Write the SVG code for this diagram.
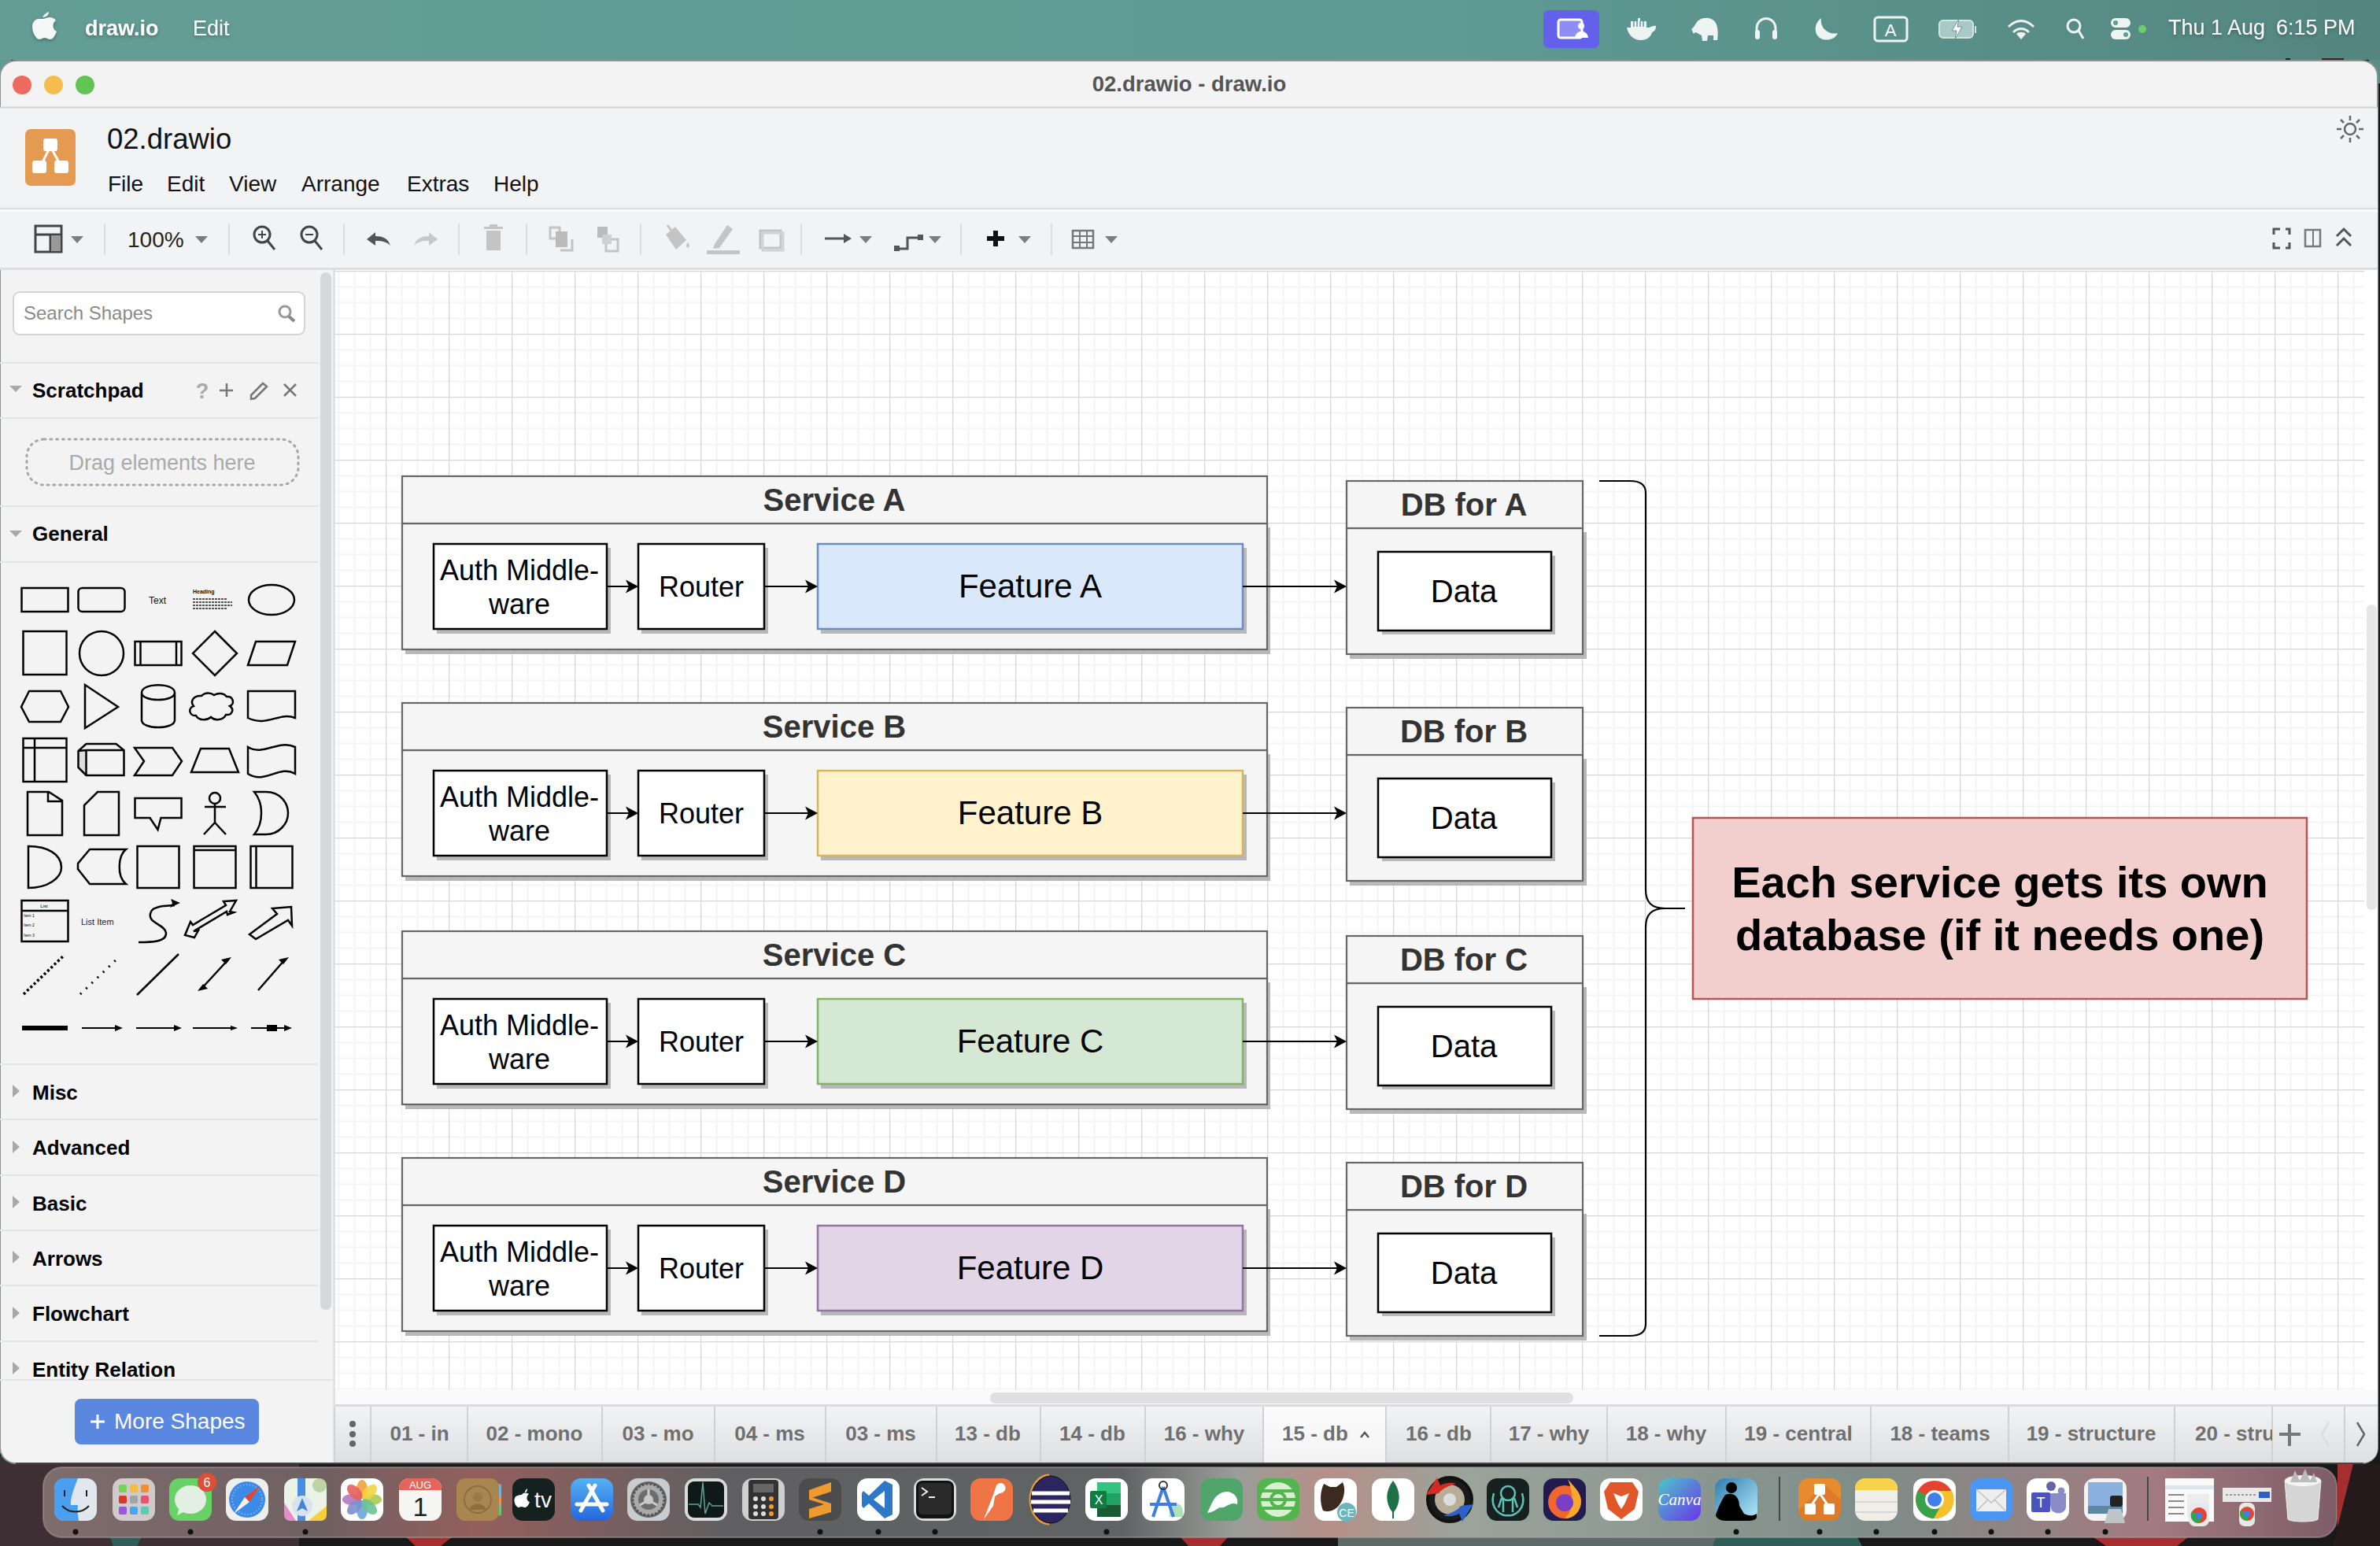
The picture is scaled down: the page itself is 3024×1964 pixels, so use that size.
<svg xmlns="http://www.w3.org/2000/svg" width="3024" height="1964" viewBox="0 0 3024 1964">
<style>
text{font-family:"Liberation Sans",Arial,sans-serif}
.mb{fill:#fff;font-size:27px}
.mnu{fill:#111;font-size:28px}
.sec{fill:#000;font-size:26px;font-weight:bold}
.tab{fill:#707070;font-size:26px;font-weight:bold;text-anchor:middle}
.sep{stroke:#dcdee1;stroke-width:2}
.ln{stroke:#e2e4e7;stroke-width:2}
.tsep{stroke:#d0d1d4;stroke-width:2}
.car{fill:#7d7d7d}
.on{fill:none;stroke:#444;stroke-width:3}
.off{fill:none;stroke:#c4c4c4;stroke-width:3}
.offf{fill:#c4c4c4}
.s{fill:none;stroke:#000;stroke-width:2.5}
.wi{fill:none;stroke:#eef4f2;stroke-width:3}
.wf{fill:#eef4f2}
.svc{fill:#f5f5f5;stroke:#666;stroke-width:2.2}
.shd{fill:#b8b8b8}
.box{fill:#fff;stroke:#000;stroke-width:2.5}
.hd{fill:#333;font-size:40px;font-weight:bold;text-anchor:middle}
.t36{fill:#000;font-size:36px;text-anchor:middle}
.t40{fill:#000;font-size:40px;text-anchor:middle}
.t42{fill:#000;font-size:42px;text-anchor:middle}
.conn{fill:none;stroke:#000;stroke-width:2.2;marker-end:url(#ah)}
.dot{fill:#111}
</style>
<defs>
<linearGradient id="mbg" x1="0" x2="1" y1="0" y2="0"><stop offset="0" stop-color="#639d96"/><stop offset=".6" stop-color="#5f9a94"/><stop offset="1" stop-color="#548680"/></linearGradient>
<linearGradient id="tabg" x1="0" x2="0" y1="0" y2="1"><stop offset="0" stop-color="#f2f3f5"/><stop offset="1" stop-color="#dedfe1"/></linearGradient>
<linearGradient id="tabw" x1="0" x2="0" y1="0" y2="1"><stop offset="0" stop-color="#fbfbfb"/><stop offset="1" stop-color="#f3f3f3"/></linearGradient>
<linearGradient id="dockg" x1="0" x2="1" y1="0" y2="0"><stop offset="0" stop-color="#7f6c6d"/><stop offset=".12" stop-color="#6f6061"/><stop offset=".19" stop-color="#935f5d"/><stop offset=".3" stop-color="#5f5f61"/><stop offset=".47" stop-color="#606364"/><stop offset=".52" stop-color="#9a9d98"/><stop offset=".56" stop-color="#b68f88"/><stop offset=".62" stop-color="#9aa49b"/><stop offset=".8" stop-color="#7e8c88"/><stop offset=".92" stop-color="#a37a7f"/><stop offset="1" stop-color="#7d5d68"/></linearGradient>
<linearGradient id="blueg" x1="0" x2="0" y1="0" y2="1"><stop offset="0" stop-color="#55b2f5"/><stop offset="1" stop-color="#2566dd"/></linearGradient>
<linearGradient id="canva" x1="0" x2="1" y1="0" y2="1"><stop offset="0" stop-color="#4cc6c8"/><stop offset="1" stop-color="#6a35ea"/></linearGradient>
<linearGradient id="sky" x1="0" x2="1" y1="0" y2="1"><stop offset="0" stop-color="#2f7cb0"/><stop offset="1" stop-color="#b6ecfb"/></linearGradient>
<pattern id="grid" patternUnits="userSpaceOnUse" x="490" y="344" width="80" height="80">
<path d="M20 0V80M40 0V80M60 0V80M0 20H80M0 40H80M0 60H80" transform="translate(.5 .5)" fill="none" stroke="#f4f4f4" stroke-width="2"/>
<path d="M0 0V80M0 0H80" transform="translate(.5 .5)" fill="none" stroke="#d8d8d8" stroke-width="1.5"/>
</pattern>
<marker id="ah" markerUnits="userSpaceOnUse" markerWidth="18" markerHeight="18" refX="12" refY="9" orient="auto"><path d="M0 .5L16 9L0 17.5L4 9Z" fill="#000"/></marker>
<clipPath id="tabclip"><rect x="2763" y="1786" width="124" height="72"/></clipPath>
<clipPath id="sideclip"><rect x="0" y="1700" width="408" height="53"/></clipPath>
<filter id="ts" x="-10%" y="-20%" width="120%" height="160%"><feDropShadow dx="0" dy="2" stdDeviation="2" flood-color="#000" flood-opacity=".3"/></filter>
</defs>

<!-- desktop -->
<rect width="3024" height="1964" fill="#191919"/>
<rect x="0" y="1850" width="380" height="114" fill="#3d2f33"/>
<rect x="1700" y="1950" width="480" height="14" fill="#5d6a67"/>
<path d="M516 1953h58l-14 11h-32zM1500 1953h60l-10 11h-40zM2660 1953h120l-14 11h-90zM2970 1860h54v104h-54z" fill="#a52f30"/>
<path d="M2990 1860h34v104h-60z" fill="#241a1b"/>
<path d="M140 1953h40l-6 11h-30zM2180 1953h180l6 11h-190z" fill="#2f5d57"/>
<rect width="3024" height="76" fill="url(#mbg)"/>
<rect x="3010" y="76" width="14" height="30" fill="#5a8d87"/>
<rect x="0" y="76" width="14" height="26" fill="#5f9a94"/>
<rect x="2904" y="74" width="6" height="3" fill="#222"/><rect x="2950" y="74" width="28" height="3" fill="#3a2020"/>

<!-- menu bar -->
<g id="menubar">
<path d="M54 22c2-4 5-6 8-7c0 4-3 7-8 7zM54 24c3 0 6-2 9-2c3 0 6 1 8 4c-5 3-5 11 1 14c-2 5-5 10-8 10c-3 0-4-2-7-2c-3 0-5 2-7 2c-4 0-9-9-9-16c0-7 5-10 8-10c2 0 4 0 5 0z" fill="#f4f8f7" filter="url(#ts)"/>
<text class="mb" x="108" y="45" font-weight="bold" filter="url(#ts)">draw.io</text>
<text class="mb" x="245" y="45" filter="url(#ts)">Edit</text>
<rect x="1961" y="13" width="71" height="48" rx="7" fill="#6360ec"/>
<rect x="1980" y="25" width="30" height="23" rx="3" fill="#8f8df3" stroke="#fff" stroke-width="3"/><circle cx="2009" cy="33" r="4" fill="#fff"/><path d="M2001 48c1-11 16-11 17 0z" fill="#fff"/>
<path d="M2067 35h28c2 0 6-3 9-2c0 5-2 7-5 8c-1 6-7 10-14 10c-9 0-16-6-18-16z" class="wf"/><path d="M2072 27h20v8h-20zM2081 23h3v4h-3z" class="wf"/><path d="M2076 27v7M2080 27v7M2084 27v7M2088 27v7" stroke="#5f9a94" stroke-width="1.500"/>
<path d="M2149 37c4-2 5-8 9-11c6-5 19-5 23 5c2 6 2 13 1 20h-5v-6h-7l-1 7h-6l-1-7c-7-4-8-5-10-2c-2-3-2-5-3-6z" class="wf"/>
<path d="M2232 46v-9c0-18 24-18 24 0v9" class="wi"/><rect x="2230" y="38" width="6" height="12" rx="3" class="wf"/><rect x="2252" y="38" width="6" height="12" rx="3" class="wf"/>
<path d="M2314 23C2304 30 2304 46 2316 50C2324 52 2332 49 2335 42C2324 45 2312 36 2314 23z" class="wf"/>
<rect x="2382" y="22" width="41" height="30" rx="4" class="wi"/><text x="2402" y="46" font-size="22" fill="#fff" text-anchor="middle">A</text>
<rect x="2464" y="26" width="43" height="22" rx="5" fill="#a9c9c4" stroke="#d7e5e2" stroke-width="2"/><path d="M2489 24l-9 15h6l-2 11l9-16h-6z" fill="#fff" stroke="#5f9a94"/><rect x="2509" y="33" width="2" height="9" fill="#d7e5e2"/>
<path d="M2552 34c10-10 22-10 32 0M2558 41c6-6 14-6 20 0" class="wi" stroke-width="4"/><path d="M2562 43c3-3 9-3 12 0l-6 7z" class="wf"/>
<circle cx="2635" cy="33" r="8" class="wi"/><path d="M2641 39l6 10" class="wi"/>
<rect x="2682" y="23" width="25" height="12" rx="6" class="wf"/><rect x="2682" y="38" width="25" height="12" rx="6" class="wf"/><circle cx="2688" cy="29" r="3" fill="#5f9a94"/><circle cx="2701" cy="44" r="3" fill="#5f9a94"/>
<circle cx="2722" cy="37" r="5" fill="#6fce6a"/>
<text class="mb" x="2755" y="44" filter="url(#ts)">Thu 1 Aug</text>
<text class="mb" x="2892" y="44" font-size="26" filter="url(#ts)">6:15 PM</text>
</g>

<!-- window -->
<rect x="0" y="77" width="3021" height="1782" rx="20" fill="#f3f3f3" stroke="#8d9393" stroke-width="2"/>
<g id="titlebar">
<circle cx="28" cy="108" r="12" fill="#ee6a5f"/><circle cx="68" cy="108" r="12" fill="#f5bd4f"/><circle cx="108" cy="108" r="12" fill="#61c454"/>
<text x="1511" y="116" font-size="27.500" font-weight="bold" fill="#555" text-anchor="middle">02.drawio - draw.io</text>
</g>
<rect x="0" y="137" width="3021" height="206" fill="#f1f3f5"/>
<path d="M0 136.500H3021" stroke="#d2d2d2" stroke-width="2"/>
<path d="M0 265H3021" stroke="#dcdee1" stroke-width="2.500"/><path d="M0 267.500H3021" stroke="#fff" stroke-width="2"/>
<path d="M0 341.500H3021" stroke="#dcdee1" stroke-width="3"/>

<g id="app-header">
<rect x="32" y="164" width="64" height="72" rx="7" fill="#e59a52"/>
<path d="M64 186L51 212M64 186L78 212" stroke="#fff" stroke-width="3" fill="none"/>
<rect x="55" y="176" width="18" height="16" rx="3" fill="#fff"/><rect x="41" y="204" width="18" height="16" rx="3" fill="#fff"/><rect x="69" y="204" width="18" height="16" rx="3" fill="#fff"/>
<text x="136" y="189" font-size="36.500" fill="#111">02.drawio</text>
<text class="mnu" x="137" y="243">File</text><text class="mnu" x="212" y="243">Edit</text><text class="mnu" x="291" y="243">View</text><text class="mnu" x="383" y="243">Arrange</text><text class="mnu" x="517" y="243">Extras</text><text class="mnu" x="627" y="243">Help</text>
<g fill="none" stroke="#666" stroke-width="2.500"><circle cx="2986" cy="164" r="7"/><path d="M2986 147v6M2986 175v6M2969 164h6M2997 164h6M2974 152l4 4M2994 172l4 4M2974 176l4-4M2994 156l4-4"/></g>
</g>

<g id="toolbar">
<path class="sep" d="M133 284v40M291 284v40M437 284v40M583 284v40M669 284v40M814 284v40M1018 284v40M1221 284v40M1336 284v40"/>
<rect x="45" y="287" width="33" height="33" fill="none" stroke="#444" stroke-width="3"/><path d="M45 298h33M64 298v22" stroke="#444" stroke-width="3"/><rect x="65" y="299" width="12" height="20" fill="#999"/>
<path class="car" d="M90 300h16l-8 9zM248 300h16l-8 9z"/>
<text x="162" y="314" font-size="28" fill="#222">100%</text>
<circle cx="333" cy="298" r="10" class="on"/><path d="M340 306l9 11" class="on" stroke-width="4"/><path d="M333 293v10M328 298h10" stroke="#444" stroke-width="2"/>
<circle cx="393" cy="298" r="10" class="on"/><path d="M400 306l9 11" class="on" stroke-width="4"/><path d="M388 298h10" stroke="#444" stroke-width="2"/>
<path d="M466 304l11-9v5c10 0 16 3 19 12c-5-5-10-6-19-6v6z" fill="#555"/>
<path d="M556 304l-11-9v5c-10 0-16 3-19 12c5-5 10-6 19-6v6z" fill="#c8c8c8"/>
<path class="offf" d="M618 293h18v25h-18zM615 288h24v3h-24zM622 285h10v3h-10z"/>
<rect x="699" y="289" width="12" height="14" class="off"/><rect x="706" y="294" width="15" height="20" fill="#bbb"/><path d="M712 318h15v-14" class="off" stroke-width="2"/>
<rect x="759" y="288" width="13" height="14" fill="#bbb"/><rect x="770" y="304" width="15" height="15" class="off"/><rect x="765" y="298" width="12" height="12" fill="#d0d0d0"/>
<path class="offf" d="M846 298l12-10l14 17l-13 12z"/><path d="M848 286l10 14" class="off" stroke-width="2"/><path class="offf" d="M874 308c2 3 3 5 0 7c-3-2-2-4 0-7z"/>
<path class="offf" d="M908 310l16-24l7 5l-17 24l-8 1z"/><rect x="898" y="318" width="42" height="5" class="offf"/>
<rect x="966" y="293" width="26" height="22" class="off" stroke-width="3"/><rect x="969" y="296" width="26" height="22" fill="none" stroke="#d2d2d2" stroke-width="3"/>
<path d="M1048 303h26" stroke="#555" stroke-width="3"/><path d="M1072 297l10 6l-10 6z" fill="#555"/>
<path class="car" d="M1092 300h16l-8 9zM1180 300h16l-8 9zM1294 300h16l-8 9zM1404 300h16l-8 9z"/>
<path d="M1140 316h13v-14h14" fill="none" stroke="#555" stroke-width="3"/><rect x="1136" y="312" width="7" height="7" fill="#555"/><rect x="1166" y="298" width="7" height="7" fill="#555"/>
<path d="M1265 293v20M1254 303h22" stroke="#111" stroke-width="6"/>
<rect x="1363" y="293" width="26" height="22" fill="none" stroke="#777" stroke-width="2.500"/><path d="M1363 300h26M1363 308h26M1372 293v22M1381 293v22" stroke="#777" stroke-width="2"/>
<path d="M2889 298v-7h8M2904 291h5v7M2889 308v7h8M2904 315h5v-7" stroke="#555" stroke-width="3" fill="none"/>
<rect x="2929" y="292" width="19" height="21" fill="none" stroke="#777" stroke-width="2.500"/><rect x="2938" y="292" width="2" height="21" fill="#777"/>
<path d="M2969 300l9-9l9 9M2969 312l9-9l9 9" fill="none" stroke="#555" stroke-width="3"/>
</g>

<!-- sidebar -->
<g id="sidebar">
<rect x="407" y="346" width="14" height="1318" rx="7" fill="#d6d7d9"/>
<path d="M424.500 343V1858" stroke="#d9dadc" stroke-width="2"/>
<rect x="17" y="371" width="370" height="54" rx="8" fill="#fff" stroke="#d4d4d4" stroke-width="2"/>
<text x="30" y="406" font-size="24" fill="#8a8a8a">Search Shapes</text>
<circle cx="362" cy="396" r="7" fill="none" stroke="#999" stroke-width="3"/><path d="M367 402l7 6" stroke="#888" stroke-width="4"/>
<path class="ln" d="M0 461H404M0 531H404M0 643H404M0 714H404M0 1352H404M0 1422H404M0 1493H404M0 1563H404M0 1633H404M0 1704H404M0 1753H424"/>
<path fill="#a8a8a8" d="M12 490h16l-8 8zM12 674h16l-8 8z"/>
<text class="sec" x="41" y="505">Scratchpad</text>
<text x="257" y="506" font-size="27" font-weight="bold" fill="#aaa" text-anchor="middle">?</text>
<path d="M288 487v17M279 496h17M361 488l15 15M376 488l-15 15" stroke="#777" stroke-width="2.500" fill="none"/>
<path d="M319 502l15-15l5 4l-15 15l-5 1z" fill="none" stroke="#777" stroke-width="2.500"/>
<rect x="34" y="558" width="345" height="58" rx="22" fill="none" stroke="#a8a8a8" stroke-width="3" stroke-dasharray="2 5.800" stroke-linecap="round"/>
<text x="206" y="597" font-size="27" fill="#aaa" text-anchor="middle">Drag elements here</text>
<text class="sec" x="41" y="687">General</text>
<rect class="s" x="27.500" y="747" width="59" height="30"/><rect class="s" x="99.500" y="747" width="59" height="30" rx="5"/>
<text x="200" y="767" font-size="12" fill="#111" text-anchor="middle">Text</text>
<text x="245" y="754" font-size="7" font-weight="bold" fill="#111">Heading</text>
<path d="M245 761h43M245 765h50M245 769h50M245 773h44" stroke="#555" stroke-width="2" stroke-dasharray="3 1"/>
<ellipse class="s" cx="345" cy="762" rx="29" ry="19"/>
<rect class="s" x="29.500" y="802" width="55" height="55"/><circle class="s" cx="129" cy="830" r="28"/>
<rect class="s" x="171.500" y="815" width="59" height="30"/><path class="s" d="M178.500 815v30M224 815v30"/>
<path class="s" d="M273 802l28 28l-28 28l-28-28zM325 815h50l-10 30h-50z"/>
<path class="s" d="M37 878h40l10 20l-10 19h-40l-10-19zM108 870v55l42-27z"/>
<path class="s" d="M180 880v35c0 12 42 12 42 0v-35c0-13-42-13-42 0c0 12 42 12 42 0"/>
<path class="s" d="M256 884c5-5 12-4 16-1c5-3 12-3 16 2c8-1 11 9 4 12c6 4 3 12-5 11c-3 7-14 8-19 3c-6 5-16 4-19-2c-8 1-11-9-3-12c-5-6 0-14 10-13z"/>
<path class="s" d="M315 878h60v34c-20-8-36 12-60 0z"/>
<rect class="s" x="29.500" y="938" width="55" height="55"/><path class="s" d="M44 938v55M29.500 950h55"/>
<path d="M100 955l9-1v30l-9-9z" fill="#ddd"/><path class="s" d="M99.500 954v21l10 10h48v-32l-10-8h-38zM109.500 953h48M109.500 953v32M109.500 953l-10 1"/>
<path class="s" d="M171 950h48l12 17l-12 18h-48l12-18zM243 981l12-30h36l12 30zM315 949c20 12 38-10 60 0v34c-20-12-38 14-60 0z"/>
<path class="s" d="M35 1006h27l17 11v44h-44zM61 1006v12h18"/>
<path class="s" d="M107 1061v-38l17-17h27v55z"/>
<path class="s" d="M171.500 1014h59v25h-26l-4 15l-10-15h-19z"/>
<circle class="s" cx="273" cy="1014" r="7"/><path class="s" d="M273 1021v24M260 1025h27M273 1045l-14 15M273 1045l14 15"/>
<path class="s" d="M323 1006h15c18 0 28 14 28 27c0 14-12 27-28 27h-15c12-14 12-40 0-54z"/>
<path class="s" d="M36 1075c24 0 42 10 42 27c0 14-18 26-42 26z"/>
<path class="s" d="M114 1079h46c-10 8-12 34 0 44h-46l-15-19v-7z"/>
<rect class="s" x="174.500" y="1075" width="53" height="53"/>
<rect class="s" x="246.500" y="1075" width="53" height="53"/><path class="s" d="M246.500 1080h53"/>
<rect class="s" x="318.500" y="1075" width="53" height="53"/><path class="s" d="M325.500 1075v53"/>
<rect class="s" x="27.500" y="1144" width="59" height="52"/><path class="s" d="M27.500 1157h59"/>
<text x="56" y="1153" font-size="6" text-anchor="middle">List</text><text x="30" y="1165" font-size="5">Item 1</text><text x="30" y="1177" font-size="5">Item 2</text><text x="30" y="1190" font-size="5">Item 3</text>
<text x="103" y="1175" font-size="11" fill="#222">List Item</text>
<path class="s" d="M176 1197c15 0 36 0 35-12c-2-12-26-12-19-27c3-7 18-7 30-8"/><path d="M217 1142l12 5l-13 6l3-6z" fill="#000"/>
<path class="s" d="M247 1191l5-9l-6 1l42-25l1 4l8-3l-5-1l8-14l-16 1l3 5l-42 25l-3-4l-7 17z"/>
<path class="s" d="M317 1187l8 6l41-24l5 7l-1-24l-24 2l6 7z"/>
<path d="M30 1263L82 1213" stroke="#000" stroke-width="3.500" stroke-dasharray="3 3"/>
<path d="M102 1263L152 1215" stroke="#000" stroke-width="3" stroke-dasharray="2 8"/>
<path d="M174 1264L227 1212" stroke="#000" stroke-width="2.500"/>
<path d="M255 1257L290 1219M328 1258L362 1219" stroke="#000" stroke-width="2.500"/>
<path d="M251 1259l13-3l-6-6zM294 1216l-13 3l6 6zM367 1216l-13 3l6 6z" fill="#000"/>
<rect x="28" y="1303" width="58" height="6" fill="#000"/>
<path d="M104 1306h46M173 1306h54M245 1306h54M319 1306h46" stroke="#000" stroke-width="2"/>
<path d="M146 1302l10 4l-10 4zM221 1302l10 4l-10 4zM293 1303l9 3l-9 3zM361 1302l10 4l-10 4z" fill="#000"/>
<rect x="339" y="1302" width="13" height="8" fill="#000"/>
<text class="sec" x="41" y="1397">Misc</text><text class="sec" x="41" y="1467">Advanced</text><text class="sec" x="41" y="1538">Basic</text><text class="sec" x="41" y="1608">Arrows</text><text class="sec" x="41" y="1678">Flowchart</text>
<text class="sec" x="41" y="1749" clip-path="url(#sideclip)">Entity Relation</text>
<path fill="#a8a8a8" d="M16 1378l9 8l-9 8zM16 1449l9 8l-9 8zM16 1519l9 8l-9 8zM16 1589l9 8l-9 8zM16 1660l9 8l-9 8zM16 1730l9 8l-9 8z"/>
<rect x="95" y="1777" width="234" height="58" rx="8" fill="#5a87e0"/>
<path d="M115 1806h18M124 1797v18" stroke="#fff" stroke-width="3"/>
<text x="145" y="1815" font-size="28" fill="#fff">More Shapes</text>
</g>

<!-- canvas -->
<rect x="426" y="343" width="2595" height="1441" fill="#fff"/>
<rect x="426" y="344" width="2578" height="1422" fill="url(#grid)"/>
<rect x="426" y="1766" width="2595" height="18" fill="#fafafa"/>
<rect x="3007" y="768" width="13" height="388" rx="6" fill="#e6e6e6"/>
<rect x="1258" y="1769" width="741" height="14" rx="7" fill="#e0e0e0"/>

<!-- diagram -->
<g id="service-a">
<rect class="shd" x="515" y="670" width="1099" height="161"/>
<rect class="svc" x="511" y="665" width="1099" height="160"/><rect class="svc" x="511" y="605" width="1099" height="60"/>
<text class="hd" x="1060" y="649">Service A</text>
<g id="auth-a"><rect class="shd" x="555" y="696" width="221" height="109"/><rect class="box" x="551" y="691" width="220" height="108"/><text class="t36" x="660" y="737">Auth Middle-</text><text class="t36" x="660" y="780">ware</text></g>
<g id="router-a"><rect class="shd" x="815" y="696" width="161" height="109"/><rect class="box" x="811" y="691" width="160" height="108"/><text class="t36" x="891" y="758">Router</text></g>
<g id="feature-a"><rect class="shd" x="1043" y="696" width="541" height="109"/><rect x="1039" y="691" width="540" height="108" fill="#dae8fc" stroke="#6c8ebf" stroke-width="2.500"/><text class="t42" x="1309" y="759">Feature A</text></g>
</g>
<g id="service-b" transform="translate(0 288)">
<rect class="shd" x="515" y="670" width="1099" height="161"/>
<rect class="svc" x="511" y="665" width="1099" height="160"/><rect class="svc" x="511" y="605" width="1099" height="60"/>
<text class="hd" x="1060" y="649">Service B</text>
<g id="auth-b"><rect class="shd" x="555" y="696" width="221" height="109"/><rect class="box" x="551" y="691" width="220" height="108"/><text class="t36" x="660" y="737">Auth Middle-</text><text class="t36" x="660" y="780">ware</text></g>
<g id="router-b"><rect class="shd" x="815" y="696" width="161" height="109"/><rect class="box" x="811" y="691" width="160" height="108"/><text class="t36" x="891" y="758">Router</text></g>
<g id="feature-b"><rect class="shd" x="1043" y="696" width="541" height="109"/><rect x="1039" y="691" width="540" height="108" fill="#fff2cc" stroke="#d6b656" stroke-width="2.500"/><text class="t42" x="1309" y="759">Feature B</text></g>
</g>
<g id="service-c" transform="translate(0 578)">
<rect class="shd" x="515" y="670" width="1099" height="161"/>
<rect class="svc" x="511" y="665" width="1099" height="160"/><rect class="svc" x="511" y="605" width="1099" height="60"/>
<text class="hd" x="1060" y="649">Service C</text>
<g id="auth-c"><rect class="shd" x="555" y="696" width="221" height="109"/><rect class="box" x="551" y="691" width="220" height="108"/><text class="t36" x="660" y="737">Auth Middle-</text><text class="t36" x="660" y="780">ware</text></g>
<g id="router-c"><rect class="shd" x="815" y="696" width="161" height="109"/><rect class="box" x="811" y="691" width="160" height="108"/><text class="t36" x="891" y="758">Router</text></g>
<g id="feature-c"><rect class="shd" x="1043" y="696" width="541" height="109"/><rect x="1039" y="691" width="540" height="108" fill="#d5e8d4" stroke="#82b366" stroke-width="2.500"/><text class="t42" x="1309" y="759">Feature C</text></g>
</g>
<g id="service-d" transform="translate(0 866)">
<rect class="shd" x="515" y="670" width="1099" height="161"/>
<rect class="svc" x="511" y="665" width="1099" height="160"/><rect class="svc" x="511" y="605" width="1099" height="60"/>
<text class="hd" x="1060" y="649">Service D</text>
<g id="auth-d"><rect class="shd" x="555" y="696" width="221" height="109"/><rect class="box" x="551" y="691" width="220" height="108"/><text class="t36" x="660" y="737">Auth Middle-</text><text class="t36" x="660" y="780">ware</text></g>
<g id="router-d"><rect class="shd" x="815" y="696" width="161" height="109"/><rect class="box" x="811" y="691" width="160" height="108"/><text class="t36" x="891" y="758">Router</text></g>
<g id="feature-d"><rect class="shd" x="1043" y="696" width="541" height="109"/><rect x="1039" y="691" width="540" height="108" fill="#e1d5e7" stroke="#9673a6" stroke-width="2.500"/><text class="t42" x="1309" y="759">Feature D</text></g>
</g>
<g id="db-a">
<rect class="shd" x="1715" y="676" width="301" height="161"/>
<rect class="svc" x="1711" y="671" width="300" height="160"/><rect class="svc" x="1711" y="611" width="300" height="60"/>
<text class="hd" x="1860" y="655">DB for A</text>
<g id="data-a"><rect class="shd" x="1756" y="706" width="220" height="100"/><rect class="box" x="1751" y="701" width="220" height="100"/><text class="t40" x="1860" y="765">Data</text></g>
</g>
<g id="db-b" transform="translate(0 288)">
<rect class="shd" x="1715" y="676" width="301" height="161"/>
<rect class="svc" x="1711" y="671" width="300" height="160"/><rect class="svc" x="1711" y="611" width="300" height="60"/>
<text class="hd" x="1860" y="655">DB for B</text>
<g id="data-b"><rect class="shd" x="1756" y="706" width="220" height="100"/><rect class="box" x="1751" y="701" width="220" height="100"/><text class="t40" x="1860" y="765">Data</text></g>
</g>
<g id="db-c" transform="translate(0 578)">
<rect class="shd" x="1715" y="676" width="301" height="161"/>
<rect class="svc" x="1711" y="671" width="300" height="160"/><rect class="svc" x="1711" y="611" width="300" height="60"/>
<text class="hd" x="1860" y="655">DB for C</text>
<g id="data-c"><rect class="shd" x="1756" y="706" width="220" height="100"/><rect class="box" x="1751" y="701" width="220" height="100"/><text class="t40" x="1860" y="765">Data</text></g>
</g>
<g id="db-d" transform="translate(0 866)">
<rect class="shd" x="1715" y="676" width="301" height="161"/>
<rect class="svc" x="1711" y="671" width="300" height="160"/><rect class="svc" x="1711" y="611" width="300" height="60"/>
<text class="hd" x="1860" y="655">DB for D</text>
<g id="data-d"><rect class="shd" x="1756" y="706" width="220" height="100"/><rect class="box" x="1751" y="701" width="220" height="100"/><text class="t40" x="1860" y="765">Data</text></g>
</g>
<g id="note">
<rect x="2151" y="1039" width="780" height="230" fill="#f2cfcd" stroke="#b85450" stroke-width="2.500"/>
<text x="2541" y="1140" font-size="56" font-weight="bold" fill="#000" text-anchor="middle">Each service gets its own</text>
<text x="2541" y="1207" font-size="56" font-weight="bold" fill="#000" text-anchor="middle">database (if it needs one)</text>
</g>
<g id="connectors">
<path class="conn" d="M771 745H807"/><path class="conn" d="M971 745H1035"/><path class="conn" d="M1579 745H1707"/>
<path class="conn" d="M771 1033H807"/><path class="conn" d="M971 1033H1035"/><path class="conn" d="M1579 1033H1707"/>
<path class="conn" d="M771 1323H807"/><path class="conn" d="M971 1323H1035"/><path class="conn" d="M1579 1323H1707"/>
<path class="conn" d="M771 1611H807"/><path class="conn" d="M971 1611H1035"/><path class="conn" d="M1579 1611H1707"/>
</g>
<path id="brace" d="M2032 611H2071C2084 611 2091 616 2091 626V1130C2091 1146 2098 1154 2116 1154H2141M2116 1154C2098 1154 2091 1162 2091 1178V1682C2091 1692 2084 1697 2071 1697H2032" fill="none" stroke="#000" stroke-width="2.200"/>

<!-- tab bar -->
<g id="tabbar">
<path d="M426 1785.500H3021" stroke="#dadbdd" stroke-width="3"/>
<path d="M426 1787H3021V1840a18 18 0 0 1-18 18H426z" fill="url(#tabg)"/>
<rect x="1606" y="1787" width="155" height="71" fill="url(#tabw)"/>
<path class="tsep" d="M425 1787v71M471 1787v71M594 1787v71M765 1787v71M908 1787v71M1049 1787v71M1190 1787v71M1322 1787v71M1455 1787v71M1605 1787v71M1761 1787v71M1894 1787v71M2042 1787v71M2193 1787v71M2377 1787v71M2552 1787v71M2763 1787v71M2887 1787v71M2979 1787v71"/>
<circle cx="448" cy="1809" r="4" fill="#666"/><circle cx="448" cy="1822" r="4" fill="#666"/><circle cx="448" cy="1834" r="4" fill="#666"/>
<text class="tab" x="533" y="1830">01 - in</text><text class="tab" x="679" y="1830">02 - mono</text><text class="tab" x="836" y="1830">03 - mo</text><text class="tab" x="978" y="1830">04 - ms</text><text class="tab" x="1119" y="1830">03 - ms</text><text class="tab" x="1255" y="1830">13 - db</text><text class="tab" x="1388" y="1830">14 - db</text><text class="tab" x="1530" y="1830">16 - why</text><text class="tab" x="1671" y="1830">15 - db</text>
<path d="M1729 1826l5-6l5 6" fill="none" stroke="#555" stroke-width="2.500"/>
<text class="tab" x="1828" y="1830">16 - db</text><text class="tab" x="1968" y="1830">17 - why</text><text class="tab" x="2117" y="1830">18 - why</text><text class="tab" x="2285" y="1830">19 - central</text><text class="tab" x="2465" y="1830">18 - teams</text><text class="tab" x="2657" y="1830">19 - structure</text>
<text class="tab" x="2789" y="1830" style="text-anchor:start" clip-path="url(#tabclip)">20 - structure</text>
<path d="M2909 1809v28M2896 1822h27" stroke="#777" stroke-width="4"/>
<path d="M2959 1807l-9 15l9 15" fill="none" stroke="#ddd" stroke-width="2.500"/><path d="M2995 1807l9 15l-9 15" fill="none" stroke="#666" stroke-width="2.500"/>
<path d="M20 1859H3003" stroke="#444" stroke-width="2"/>
</g>

<!-- dock -->
<g id="dock">
<rect x="55" y="1864" width="2914" height="89" rx="24" fill="url(#dockg)" stroke="#a9a3a3" stroke-opacity=".5" stroke-width="2"/>
<path d="M2261 1876v56M2729 1876v56" stroke="#3f4b4a" stroke-width="2"/>
<g transform="translate(96 1905)"><rect x="-27" y="-27" width="54" height="54" rx="13" fill="#e2e7ee"/><path d="M-14-27H3C-3-12-7 0-6 7H3C2 14 3 21 4 27H-14A13 13 0 0 1-27 14V-14A13 13 0 0 1-14-27Z" fill="#4a9ff0"/><path d="M-14-12v8M14-12v8" stroke="#222" stroke-width="2"/><path d="M-17 8C-8 18 8 18 17 8" fill="none" stroke="#222" stroke-width="2"/></g>
<g transform="translate(170 1905)"><rect x="-27" y="-27" width="54" height="54" rx="13" fill="#d0cbca"/><rect x="-19" y="-19" width="10" height="10" rx="2" fill="#76d255"/><rect x="-5" y="-19" width="10" height="10" rx="2" fill="#f3bd3d"/><rect x="9" y="-19" width="10" height="10" rx="2" fill="#ef9037"/><rect x="-19" y="-5" width="10" height="10" rx="2" fill="#d8362f"/><rect x="-5" y="-5" width="10" height="10" rx="2" fill="#9fa6a9"/><rect x="9" y="-5" width="10" height="10" rx="2" fill="#e85470"/><rect x="-19" y="9" width="10" height="10" rx="2" fill="#9b55dc"/><rect x="-5" y="9" width="10" height="10" rx="2" fill="#4aa5ef"/><rect x="9" y="9" width="10" height="10" rx="2" fill="#5dcbb0"/></g>
<g transform="translate(242 1905)"><rect x="-27" y="-27" width="54" height="54" rx="13" fill="#68d266"/><ellipse cx="0" cy="0" rx="20" ry="18" fill="#e4efe4"/><path d="M-14 10l-3 10l10-5z" fill="#e4efe4"/></g>
<circle cx="263" cy="1883" r="12" fill="#dc4f3c"/><text x="263" y="1889" font-size="16" fill="#fff" text-anchor="middle">6</text>
<g transform="translate(314 1905)"><rect x="-27" y="-27" width="54" height="54" rx="13" fill="#eeeeee"/><circle r="23" fill="#3b8be6"/><circle r="19" fill="none" stroke="#9cc6f5" stroke-width="2" stroke-dasharray="1 3"/><path d="M17-18L3 3L-3-3z" fill="#e8432e"/><path d="M-17 18L3 3L-3-3z" fill="#f2f2f2"/></g>
<g transform="translate(388 1905)"><rect x="-27" y="-27" width="54" height="54" rx="13" fill="#eaf3e6"/><rect x="-10" y="-27" width="10" height="54" fill="#4a8de0"/><path d="M-27 4L-12 27H-20A8 8 0 0 1-27 20z" fill="#e58ccb"/><path d="M4 27L27 8V20A8 8 0 0 1 20 27z" fill="#f5cf3d"/><circle cx="18" cy="-18" r="9" fill="#bbd3a5"/><circle r="13" cy="8" cx="-4" fill="#d9e2ee"/><path d="M-4-2l7 17l-7-4l-7 4z" fill="#3f86dd"/></g>
<g transform="translate(460 1905)"><rect x="-27" y="-27" width="54" height="54" rx="13" fill="#fff"/><ellipse cy="-13" rx="7" ry="12" fill="#f0a13c" opacity=".9"/><ellipse cy="13" rx="7" ry="12" fill="#6ba5d8" opacity=".9"/><ellipse cx="-13" rx="12" ry="7" fill="#b677c4" opacity=".9"/><ellipse cx="13" rx="12" ry="7" fill="#a8cc4f" opacity=".9"/><ellipse cy="-13" rx="7" ry="12" fill="#f3d43e" opacity=".9" transform="rotate(45)"/><ellipse cy="13" rx="7" ry="12" fill="#7e8ed0" opacity=".9" transform="rotate(45)"/><ellipse cy="-13" rx="7" ry="12" fill="#e7625d" opacity=".9" transform="rotate(-45)"/><ellipse cy="13" rx="7" ry="12" fill="#6cc394" opacity=".9" transform="rotate(-45)"/></g>
<g transform="translate(534 1905)"><rect x="-27" y="-27" width="54" height="54" rx="13" fill="#f5f5f3"/><path d="M-27-12V-14A13 13 0 0 1-14-27H14A13 13 0 0 1 27-14V-12z" fill="#e8645a"/><text y="-14" font-size="13" fill="#fff" text-anchor="middle">AUG</text><text y="21" font-size="34" fill="#222" text-anchor="middle">1</text></g>
<g transform="translate(607 1905)"><rect x="20" y="-20" width="10" height="40" rx="3" fill="#7ab0d8"/><rect x="20" y="-3" width="10" height="10" fill="#e9963b"/><rect x="20" y="8" width="10" height="12" fill="#6cc36b"/><rect x="-27" y="-27" width="54" height="54" rx="11" fill="#a98650"/><circle r="17" fill="none" stroke="#8e6f42" stroke-width="2"/><circle r="6" cy="-3" fill="#9a7a49"/><path d="M-11 13c3-10 19-10 22 0z" fill="#8e6f42"/></g>
<g transform="translate(678 1905)"><rect x="-27" y="-27" width="54" height="54" rx="13" fill="#15211e"/><path d="M-15-6c2-4 8-2 9-1c-4 3-3 9 1 10c-2 5-4 7-6 7c-2 0-3-1-4-1c-2 0-3 1-4 1c-3 0-7-7-5-12c1-3 6-4 9-4zM-11-9c0-3 2-4 3-5c0 3-1 5-3 5z" fill="#fff"/><text x="12" y="10" font-size="28" fill="#fff" text-anchor="middle">tv</text></g>
<g transform="translate(752 1905)"><rect x="-27" y="-27" width="54" height="54" rx="13" fill="url(#blueg)"/><path d="M-4-18L14 14M4-18L-14 14M-19 6H19" stroke="#fff" stroke-width="5" stroke-linecap="round"/></g>
<g transform="translate(824 1905)"><rect x="-27" y="-27" width="54" height="54" rx="13" fill="#c8ccd0"/><circle r="23" fill="#666"/><circle r="20" fill="#aaa" stroke="#555" stroke-width="3" stroke-dasharray="3 2"/><circle r="13" fill="#6d6d6d"/><circle r="6" fill="#c9c9c9"/><path d="M0-13V-5M11 7L4 3M-11 7L-4 3" stroke="#ccc" stroke-width="3"/></g>
<g transform="translate(897 1905)"><rect x="-27" y="-27" width="54" height="54" rx="13" fill="#d9dbdb"/><rect x="-23" y="-23" width="46" height="46" rx="8" fill="#0f1a18"/><path d="M-22 6h12l3 4l3-32l3 40l5-14l4 4h14" fill="none" stroke="#62a58e" stroke-width="1.500"/></g>
<g transform="translate(970 1905)"><rect x="-27" y="-27" width="54" height="54" rx="13" fill="#cfcfcf"/><rect x="-19" y="-25" width="38" height="50" rx="4" fill="#333"/><rect x="-13" y="-20" width="26" height="11" fill="#666"/><g fill="#ddd"><circle cx="-10" cy="-1" r="3"/><circle cy="-1" r="3"/><circle cx="-10" cy="9" r="3"/><circle cy="9" r="3"/><circle cx="-10" cy="18" r="3"/><circle cy="18" r="3"/></g><g fill="#f09a37"><circle cx="10" cy="-1" r="3"/><circle cx="10" cy="9" r="3"/><circle cx="10" cy="18" r="3"/></g></g>
<g transform="translate(1042 1905)"><rect x="-27" y="-27" width="54" height="54" rx="13" fill="#4c4c4c"/><path d="M14-22V-10L-14-1V-12zM-14-4L14 5V16L-14 24V12L5 6L-14 0z" fill="#ef9a2e"/></g>
<g transform="translate(1116 1905)"><rect x="-27" y="-27" width="54" height="54" rx="13" fill="#fff"/><path d="M8-24L18-19V19L8 24L-12 5L-19 11L-21 8V-8L-19-11L-12-5zM8-11L-6 0L8 11z" fill="#2d79c7"/></g>
<g transform="translate(1188 1905)"><rect x="-27" y="-27" width="54" height="54" rx="13" fill="#d9dada"/><rect x="-24" y="-24" width="48" height="48" rx="8" fill="#111"/><rect x="-21" y="-21" width="42" height="40" rx="5" fill="#2a2a2a"/><path d="M-17-15l7 5l-7 5M-8-3h8" fill="none" stroke="#eee" stroke-width="2"/></g>
<g transform="translate(1260 1905)"><rect x="-27" y="-27" width="54" height="54" rx="13" fill="#ef7547"/><path d="M-10 25L2-6l4-12c3-4 9-4 11 1c2 5-2 9-7 9l-6 4l-2 12z" fill="#fff"/></g>
<g transform="translate(1335 1905)"><path d="M-2-31A24 31 0 0 0-2 31" fill="none" stroke="#e89a3c" stroke-width="3"/><ellipse cy="0" rx="25" ry="30" fill="#2c2560" stroke="#111"/><path d="M-24-8H24M-25 3H25M-22 14H22" stroke="#fff" stroke-width="5"/></g>
<g transform="translate(1406 1905)"><rect x="-27" y="-27" width="54" height="54" rx="13" fill="#fff"/><rect x="-12" y="-22" width="30" height="14" fill="#33c481"/><rect x="-12" y="-8" width="30" height="15" fill="#21a366"/><rect x="-12" y="7" width="30" height="15" fill="#185c37"/><rect x="-21" y="-11" width="21" height="22" rx="2" fill="#107c41"/><text x="-10" y="6" font-size="16" fill="#fff" text-anchor="middle">X</text></g>
<g transform="translate(1478 1905)"><rect x="-27" y="-27" width="54" height="54" rx="13" fill="#fff"/><path d="M8 14c2-12 15-12 17 0v8H8z" fill="#8fd39a" opacity=".7"/><path d="M0-16L-13 22M0-16L13 22M-17 6H17" stroke="#3f7de0" stroke-width="4" fill="none"/><circle cy="-18" r="5" fill="none" stroke="#333" stroke-width="2"/></g>
<g transform="translate(1552 1905)"><rect x="-27" y="-27" width="54" height="54" rx="13" fill="#4fa56a"/><path d="M-18 17C-12 6-10-8 6-10C16-10 22-2 20 6C10 2 6 12-2 10C-6 12-10 16-18 17z" fill="#fff"/></g>
<g transform="translate(1624 1905)"><rect x="-27" y="-27" width="54" height="54" rx="13" fill="#54b450"/><circle r="22" fill="#d8efd0"/><path d="M-22-11H22M-22 0H22M-22 11H22" stroke="#54b450" stroke-width="4"/><circle r="9" fill="none" stroke="#54b450" stroke-width="4"/></g>
<g transform="translate(1697 1905)"><rect x="-27" y="-27" width="54" height="54" rx="13" fill="#fff"/><path d="M-15-20l8 4h8l8-6c4 8 2 20-3 27c-4 7-13 12-22 9c-4-10-4-24 1-34z" fill="#3a2a20"/><circle cx="14" cy="16" r="12" fill="#6cb5bd"/><text x="14" y="22" font-size="14" fill="#fff" text-anchor="middle">CE</text></g>
<g transform="translate(1770 1905)"><rect x="-27" y="-27" width="54" height="54" rx="13" fill="#fff"/><path d="M0-24C9-12 11 3 1 16V24H-1V16C-11 3-9-12 0-24z" fill="#1f7046"/></g>
<g transform="translate(1842 1905)"><circle r="28" fill="#1a1a1a" stroke="#111" stroke-width="4"/><circle r="19" fill="#b8ad98"/><circle r="8" fill="#ddd"/><path d="M-30-6L-16-28L-12-18C-4-22 4-22 8-20C0-18-10-14-14-8z" fill="#d22b20"/><path d="M30 6L16 28L12 18C4 22-4 22-8 20C0 18 10 14 14 8z" fill="#2a62c8"/></g>
<g transform="translate(1916 1905)"><rect x="-27" y="-27" width="54" height="54" rx="13" fill="#15201f"/><path d="M-18-8C-24 12-8 22 0 20C8 22 24 12 18-8M-6 16V-2M6 16V-2M-12 10L-8-2M12 10L8-2" fill="none" stroke="#5fc1b7" stroke-width="2.500"/><ellipse cy="-8" rx="9" ry="9" fill="none" stroke="#5fc1b7" stroke-width="2.500"/></g>
<g transform="translate(1988 1905)"><rect x="-27" y="-27" width="54" height="54" rx="13" fill="#231a4e"/><circle r="21" cy="3" fill="#f0662f"/><path d="M4-26C14-14 24-6 20 8C16 22 6 24 0 24C12 14 12-6 4-26z" fill="#f9a82f"/><circle r="11" cy="4" fill="#7a3fc4"/></g>
<g transform="translate(2060 1905)"><rect x="-27" y="-27" width="54" height="54" rx="13" fill="#fff"/><path d="M-14-22H14L22-10L17 12L0 25L-17 12L-22-10z" fill="#e2572a"/><path d="M-10-8L0-4L10-8L4 6L0 12L-4 6z" fill="#fff"/></g>
<g transform="translate(2134 1905)"><rect x="-27" y="-27" width="54" height="54" rx="13" fill="url(#canva)"/><text y="7" font-size="21" font-style="italic" fill="#fff" text-anchor="middle" style="font-family:'Liberation Serif',serif">Canva</text></g>
<g transform="translate(2206 1905)"><rect x="-27" y="-27" width="54" height="54" rx="13" fill="url(#sky)"/><circle cx="-6" cy="-15" r="7" fill="#000"/><path d="M-14-6C-4-10 4-4 4 8L10 18C14 20 20 22 26 18V22C26 26 20 27 14 27H-14C-20 27-25 24-26 20C-24 12-18 0-14-6z" fill="#000"/></g>
<g transform="translate(2312 1905)"><rect x="-27" y="-27" width="54" height="54" rx="13" fill="#e88b2f"/><path d="M-27 14L5-20L27 0V14A13 13 0 0 1 14 27H-14A13 13 0 0 1-27 14z" fill="#d5722a" opacity=".6"/><path d="M0-8L-11 8M0-8L11 8" stroke="#fff" stroke-width="3"/><rect x="-7" y="-20" width="14" height="14" rx="2" fill="#fff"/><rect x="-19" y="5" width="14" height="14" rx="2" fill="#fff"/><rect x="5" y="5" width="14" height="14" rx="2" fill="#fff"/></g>
<g transform="translate(2384 1905)"><rect x="-27" y="-27" width="54" height="54" rx="13" fill="#efeee8"/><path d="M-27-12V-14A13 13 0 0 1-14-27H14A13 13 0 0 1 27-14V-12z" fill="#f8d24a"/><path d="M-27 3H27M-27 16H27" stroke="#d8d7d1" stroke-width="2"/></g>
<g transform="translate(2458 1905)"><rect x="-27" y="-27" width="54" height="54" rx="13" fill="#fff"/><circle r="24" fill="#e5432f"/><path d="M-21-11A24 24 0 0 0-1 24L10 4L0 0z" fill="#37a24c"/><path d="M0-11H22A24 24 0 0 1-1 24L10 4z" fill="#f6c02c"/><circle r="12" fill="#fff"/><circle r="9" fill="#3f7fe9"/></g>
<g transform="translate(2530 1905)"><rect x="-27" y="-27" width="54" height="54" rx="13" fill="#4b95f3"/><rect x="-19" y="-13" width="38" height="28" fill="#eeeeee"/><path d="M-19-13L0 4L19-13M-19 15L-4 0M19 15L4 0" fill="none" stroke="#c2c2c2" stroke-width="1.500"/></g>
<g transform="translate(2602 1905)"><rect x="-27" y="-27" width="54" height="54" rx="13" fill="#fff"/><circle cx="4" cy="-17" r="6" fill="#6264a7"/><circle cx="17" cy="-11" r="4.500" fill="#8b8cc7"/><path d="M-2-8H23V9C23 16 13 21 5 14z" fill="#8b8cc7"/><rect x="-21" y="-9" width="24" height="25" rx="2" fill="#4b53bc"/><text x="-9" y="10" font-size="18" fill="#fff" text-anchor="middle">T</text></g>
<g transform="translate(2675 1905)"><rect x="-27" y="-27" width="54" height="54" rx="13" fill="#f3f3f3"/><rect x="-22" y="-22" width="44" height="40" fill="#8cb1e0"/><rect x="-22" y="8" width="44" height="10" fill="#5e87a6"/><path d="M0 26L5 8H21L26 26z" fill="#bfc5c7" transform="translate(-1 4)"/><rect x="6" y="-5" width="16" height="14" rx="3" fill="#222"/></g>
<g transform="translate(2781 1905)"><rect x="-30" y="-27" width="62" height="55" fill="#fafafa"/><rect x="-30" y="-18" width="62" height="5" fill="#dbe6f3"/><path d="M-26-6h20M-26 2h20M-26 10h20M-26 18h20" stroke="#8a8a8a" stroke-width="2"/><rect x="-2" y="-7" width="28" height="30" fill="#ececec"/><rect x="0" y="4" width="26" height="30" rx="8" fill="#e8e8e8"/><circle cx="13" cy="20" r="10" fill="#e5432f"/><path d="M4 15A10 10 0 0 0 13 30L18 22z" fill="#37a24c"/><circle cx="13" cy="20" r="4" fill="#3f7fe9"/></g>
<g transform="translate(2854 1905)"><rect x="-30" y="-15" width="62" height="18" fill="#e8e8e8"/><rect x="16" y="-10" width="14" height="8" fill="#2f5fc3"/><path d="M-26-6h38" stroke="#999" stroke-width="2" stroke-dasharray="3 2"/><rect x="-9" y="4" width="20" height="30" rx="7" fill="#e8e8e8"/><circle cy="18" r="9" fill="#e5432f" cx="1"/><path d="M-7 14A9 9 0 0 0 1 27L5 20z" fill="#37a24c"/><circle cx="1" cy="18" r="4" fill="#3f7fe9"/></g>
<g transform="translate(2926 1905)"><path d="M-23-24L-19 25C-15 29 15 29 19 25L23-24z" fill="#d4d5d4" stroke="#eee"/><ellipse cy="-24" rx="23" ry="7" fill="#f4f4f4"/><path d="M-16-22L-10-37L-4-24L3-39L9-24L14-34L18-22z" fill="#bbb"/></g>
<g class="dot"><circle cx="96" cy="1946" r="3.500"/><circle cx="242" cy="1946" r="3.500"/><circle cx="388" cy="1946" r="3.500"/><circle cx="1042" cy="1946" r="3.500"/><circle cx="1116" cy="1946" r="3.500"/><circle cx="1188" cy="1946" r="3.500"/><circle cx="1406" cy="1946" r="3.500"/><circle cx="2206" cy="1946" r="3.500"/><circle cx="2312" cy="1946" r="3.500"/><circle cx="2384" cy="1946" r="3.500"/><circle cx="2458" cy="1946" r="3.500"/><circle cx="2530" cy="1946" r="3.500"/><circle cx="2602" cy="1946" r="3.500"/><circle cx="2675" cy="1946" r="3.500"/></g>
</g>
</svg>
